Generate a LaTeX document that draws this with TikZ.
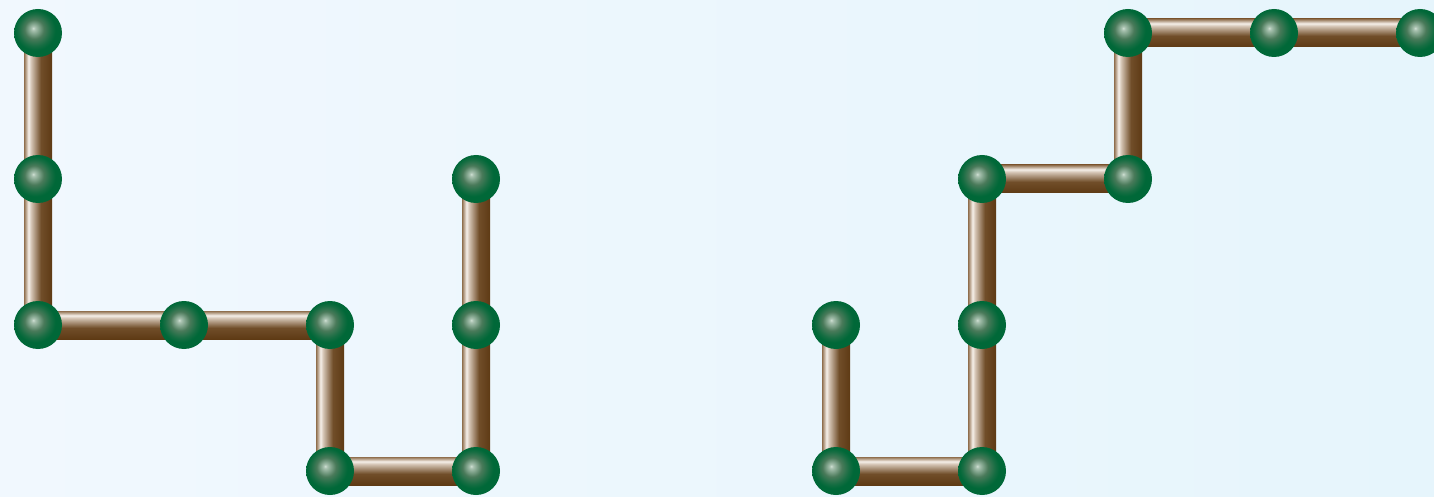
\documentclass[tikz,border=0pt]{standalone}
\usetikzlibrary{calc}
\definecolor{rodD}{HTML}{5E3A14}
\definecolor{rodM}{HTML}{9C7C5C}
\definecolor{rodL}{HTML}{F6F0EA}
\definecolor{ballE}{HTML}{006838}
\definecolor{ballM}{HTML}{4A7A5A}
\definecolor{ballL}{HTML}{D0E0D4}
\definecolor{bgA}{HTML}{F1F8FE}
\definecolor{bgB}{HTML}{E6F5FC}
\pgfdeclarehorizontalshading{rodvert}{100bp}{color(0bp)=(rodM!80!rodD); color(25bp)=(rodM!80!rodD); color(33bp)=(rodL); color(38bp)=(rodL!60!rodM); color(55bp)=(rodD!70!rodM); color(75bp)=(rodD); color(100bp)=(rodD)}
\pgfdeclareverticalshading{rodhoriz}{100bp}{color(0bp)=(rodD); color(25bp)=(rodD); color(45bp)=(rodD!70!rodM); color(62bp)=(rodL!60!rodM); color(67bp)=(rodL); color(75bp)=(rodM!80!rodD); color(100bp)=(rodM!80!rodD)}
\pgfdeclareradialshading{ballshade}{\pgfpoint{-5bp}{5bp}}{color(0bp)=(ballL); color(2bp)=(ballL!70!ballM); color(10bp)=(ballM); color(17bp)=(ballE!70!ballM); color(21bp)=(ballE); color(50bp)=(ballE)}
\pgfdeclarelayer{rods}
\pgfsetlayers{rods,main}
\tikzset{
  ball/.style={circle, minimum size=24pt, inner sep=0pt, shading=ballshade},
  vrod/.style={shading=rodvert},
  hrod/.style={shading=rodhoriz}
}
\newcommand{\vrodbetween}[2]{\begin{pgfonlayer}{rods}\shade[vrod] ($(#1)+(-14,0)$) rectangle ($(#2)+(14,0)$);\end{pgfonlayer}}
\newcommand{\hrodbetween}[2]{\begin{pgfonlayer}{rods}\shade[hrod] ($(#1)+(0,-14)$) rectangle ($(#2)+(0,14)$);\end{pgfonlayer}}
\begin{document}
\begin{tikzpicture}[x=0.5pt,y=-0.5pt]
\begin{pgfonlayer}{rods}
\shade[shading angle=60, left color=bgA, right color=bgB] (0,0) rectangle (1434,497);
\end{pgfonlayer}
\clip (0,0) rectangle (1434,497);
% left chain
\node[ball] (a1) at (38,33) {};
\node[ball] (a2) at (38,179) {};
\node[ball] (a3) at (38,325) {};
\node[ball] (a4) at (184,325) {};
\node[ball] (a5) at (330,325) {};
\node[ball] (a6) at (330,471) {};
\node[ball] (a7) at (476,471) {};
\node[ball] (a8) at (476,325) {};
\node[ball] (a9) at (476,179) {};
\vrodbetween{a1.center}{a3.center}
\hrodbetween{a3.center}{a5.center}
\vrodbetween{a5.center}{a6.center}
\hrodbetween{a6.center}{a7.center}
\vrodbetween{a9.center}{a7.center}
% right chain
\node[ball] (b1) at (836,325) {};
\node[ball] (b2) at (836,471) {};
\node[ball] (b3) at (982,471) {};
\node[ball] (b4) at (982,325) {};
\node[ball] (b5) at (982,179) {};
\node[ball] (b6) at (1128,179) {};
\node[ball] (b7) at (1128,33) {};
\node[ball] (b8) at (1274,33) {};
\node[ball] (b9) at (1420,33) {};
\vrodbetween{b1.center}{b2.center}
\hrodbetween{b2.center}{b3.center}
\vrodbetween{b5.center}{b3.center}
\hrodbetween{b5.center}{b6.center}
\vrodbetween{b7.center}{b6.center}
\hrodbetween{b7.center}{b9.center}
\end{tikzpicture}
\end{document}
